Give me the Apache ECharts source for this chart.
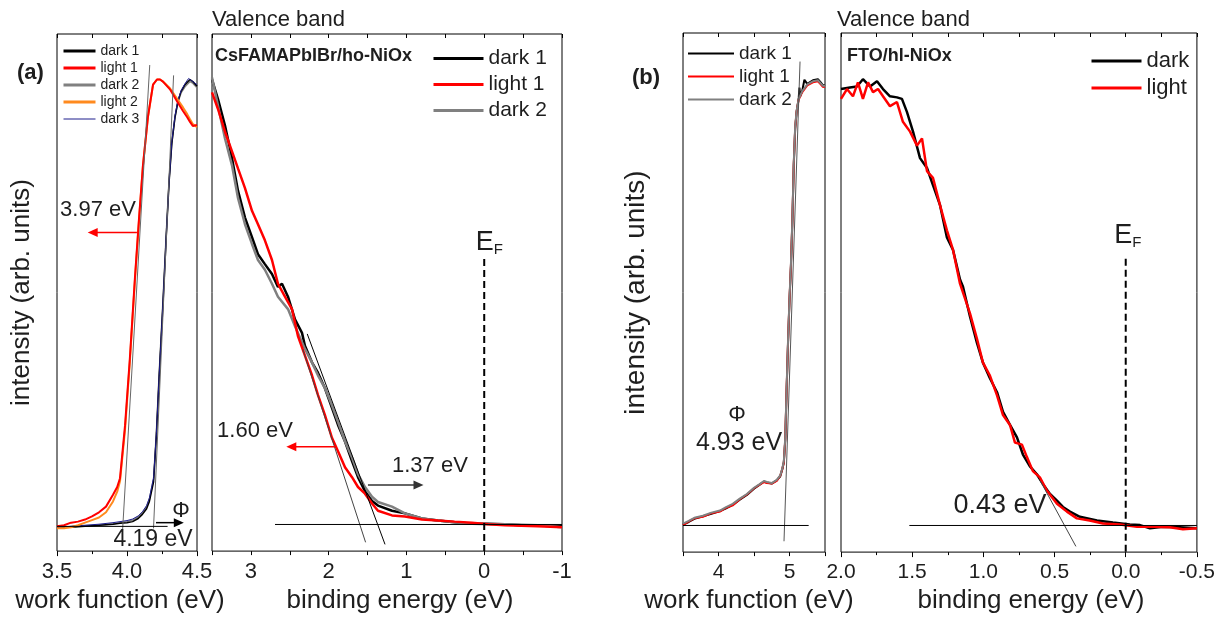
<!DOCTYPE html>
<html>
<head>
<meta charset="utf-8">
<title>Work function and valence band spectra</title>
<script src="https://cdn.jsdelivr.net/npm/echarts@6.0.0/dist/echarts.min.js"></script>
<style>
  html, body { margin: 0; padding: 0; background: #fff; }
  #chart { width: 1218px; height: 619px; }
</style>
</head>
<body>
<div id="chart"></div>
<script>
// ---------- (a) CsFAMAPbIBr/ho-NiOx : secondary electron cutoff ----------
const wfA_dark1 = [[3.50,4.6],[3.60,4.6],[3.70,4.8],[3.80,5.0],[3.90,5.2],[3.95,5.4],[4.00,5.5],[4.04,5.7],[4.08,6.3],[4.11,7.1],[4.14,8.2],[4.16,9.6],[4.19,13.4],[4.21,22.4],[4.23,33.8],[4.257,47.8],[4.28,60.6],[4.30,71.1],[4.32,78.8],[4.343,83.9],[4.364,87.0],[4.386,88.9],[4.414,90.2],[4.45,91.2],[4.47,90.8],[4.50,89.9]];
const wfA_light1 = [[3.50,4.8],[3.55,5.0],[3.60,5.5],[3.65,5.7],[3.70,6.1],[3.75,6.7],[3.80,7.5],[3.85,8.6],[3.90,10.9],[3.93,12.4],[3.95,14.1],[3.986,24.3],[4.02,37.1],[4.057,53.0],[4.086,64.4],[4.114,74.6],[4.15,84.1],[4.186,90.2],[4.214,91.2],[4.236,91.2],[4.257,90.8],[4.307,89.3],[4.357,87.0],[4.40,85.1],[4.43,83.9],[4.45,83.0],[4.47,82.2],[4.50,82.4]];
const wfA_dark2 = [[3.50,4.4],[3.60,4.7],[3.70,4.9],[3.80,5.0],[3.90,5.3],[3.95,5.5],[4.00,5.7],[4.04,6.0],[4.08,6.6],[4.11,7.4],[4.14,8.6],[4.16,10.0],[4.19,14.0],[4.21,23.0],[4.23,34.5],[4.257,48.5],[4.28,61.2],[4.30,71.5],[4.32,79.0],[4.343,84.0],[4.364,86.8],[4.386,88.6],[4.414,89.8],[4.45,90.8],[4.47,90.5],[4.50,89.6]];
const wfA_light2 = [[3.50,4.4],[3.55,4.4],[3.60,4.6],[3.65,5.0],[3.70,5.5],[3.75,6.0],[3.80,6.5],[3.85,7.5],[3.90,9.6],[3.93,11.5],[3.95,13.5],[3.986,23.5],[4.02,36.5],[4.057,52.5],[4.086,64.0],[4.114,74.5],[4.15,84.0],[4.186,90.2],[4.214,91.2],[4.236,91.2],[4.257,90.8],[4.307,89.5],[4.357,87.5],[4.40,85.8],[4.43,84.5],[4.45,83.5],[4.47,82.6],[4.50,82.0]];
const wfA_dark3 = [[3.50,4.5],[3.60,4.8],[3.70,5.0],[3.80,5.2],[3.90,5.5],[3.95,5.7],[4.00,5.9],[4.04,6.2],[4.08,6.8],[4.11,7.6],[4.14,8.8],[4.16,10.3],[4.19,14.2],[4.21,22.8],[4.23,34.0],[4.257,48.0],[4.28,60.8],[4.30,71.2],[4.32,79.2],[4.343,84.2],[4.364,87.2],[4.386,89.0],[4.414,90.4],[4.44,91.4],[4.46,91.0],[4.48,90.6],[4.50,90.2]];

// ---------- (a) valence band ----------
const vbA_dark1 = [[3.500,91.2],[3.423,87.4],[3.333,82.3],[3.243,76.0],[3.166,69.7],[3.076,64.5],[2.986,60.7],[2.909,57.4],[2.820,55.5],[2.729,53.6],[2.652,51.1],[2.600,51.7],[2.523,49.2],[2.433,44.8],[2.343,42.2],[2.305,39.7],[2.215,36.5],[2.138,34.5],[2.048,31.5],[1.958,27.7],[1.880,24.4],[1.790,21.2],[1.700,17.4],[1.623,14.3],[1.533,11.6],[1.443,9.7],[1.366,8.8],[1.186,7.8],[1.019,7.3],[0.801,6.3],[0.595,5.9],[0.380,5.6],[0.158,5.3],[-0.050,5.3],[-0.266,5.2],[-0.480,5.0],[-0.690,5.0],[-0.850,4.9],[-1.000,4.8]];
const vbA_light1 = [[3.500,88.7],[3.423,85.5],[3.333,81.1],[3.243,77.3],[3.166,74.0],[3.076,70.2],[2.986,65.8],[2.909,63.2],[2.820,60.1],[2.729,56.3],[2.652,51.7],[2.562,49.2],[2.472,46.8],[2.395,41.6],[2.305,37.8],[2.215,34.0],[2.138,30.2],[2.048,26.3],[1.958,21.9],[1.880,19.3],[1.790,16.2],[1.700,14.3],[1.623,12.4],[1.533,11.1],[1.443,9.2],[1.366,7.8],[1.186,6.9],[1.019,6.7],[0.801,6.1],[0.595,5.9],[0.380,5.7],[0.158,5.5],[-0.050,5.2],[-0.266,5.0],[-0.480,4.9],[-0.690,4.8],[-0.850,4.7],[-1.000,4.6]];
const vbA_dark2 = [[3.500,91.6],[3.423,86.1],[3.333,79.8],[3.243,74.6],[3.166,68.3],[3.076,63.2],[2.986,59.4],[2.909,56.3],[2.820,54.4],[2.729,51.7],[2.652,49.2],[2.523,46.8],[2.433,43.5],[2.305,39.1],[2.215,36.5],[2.138,34.0],[2.048,31.5],[1.958,28.2],[1.880,25.0],[1.790,21.2],[1.700,18.1],[1.623,14.9],[1.533,12.4],[1.443,10.5],[1.366,9.5],[1.186,8.6],[1.019,7.3],[0.801,6.3],[0.595,5.9],[0.380,5.6],[0.158,5.3],[-0.050,5.2],[-0.266,5.2],[-0.480,5.1],[-0.690,5.0],[-0.850,4.8],[-1.000,4.6]];

// ---------- (b) FTO/hl-NiOx : secondary electron cutoff ----------
const wfB_dark1 = [[3.50,5.3],[3.58,5.8],[3.66,6.4],[3.78,6.9],[3.90,7.4],[4.02,7.9],[4.10,8.4],[4.20,9.1],[4.30,10.1],[4.40,11.0],[4.50,12.2],[4.58,13.0],[4.64,13.6],[4.68,13.4],[4.75,13.2],[4.82,13.8],[4.87,14.6],[4.90,16.0],[4.92,17.3],[4.94,21.5],[4.96,31.5],[4.98,40.5],[5.00,48.5],[5.02,55.0],[5.04,63.5],[5.06,74.5],[5.08,81.5],[5.10,84.8],[5.13,87.5],[5.14,89.5],[5.15,87.8],[5.18,88.9],[5.21,91.0],[5.25,90.2],[5.33,90.9],[5.40,91.1],[5.44,90.5],[5.47,89.9],[5.50,90.0]];
const wfB_light1 = [[3.50,5.2],[3.58,5.9],[3.66,6.5],[3.78,6.8],[3.90,7.5],[4.02,7.8],[4.10,8.5],[4.20,9.0],[4.30,10.2],[4.40,11.1],[4.50,12.3],[4.58,13.0],[4.64,13.5],[4.68,13.3],[4.75,13.2],[4.82,13.7],[4.87,14.7],[4.90,16.1],[4.92,17.2],[4.94,21.8],[4.96,31.8],[4.98,40.8],[5.00,48.8],[5.02,55.2],[5.04,63.8],[5.06,74.8],[5.08,81.8],[5.10,84.9],[5.13,87.2],[5.18,88.6],[5.25,89.9],[5.33,90.5],[5.40,90.7],[5.44,90.1],[5.47,89.6],[5.50,89.7]];
const wfB_dark2 = [[3.50,5.5],[3.58,6.0],[3.66,6.6],[3.78,7.0],[3.90,7.6],[4.02,8.0],[4.10,8.6],[4.20,9.3],[4.30,10.3],[4.40,11.2],[4.50,12.4],[4.58,13.1],[4.64,13.7],[4.68,13.5],[4.75,13.3],[4.82,13.9],[4.87,14.8],[4.90,16.2],[4.92,17.5],[4.94,22.0],[4.96,32.0],[4.98,41.0],[5.00,49.0],[5.02,55.5],[5.04,64.0],[5.06,75.0],[5.08,82.0],[5.10,85.0],[5.13,87.3],[5.18,88.8],[5.25,90.1],[5.33,90.7],[5.40,90.9],[5.44,90.3],[5.47,89.8],[5.50,89.9]];

// ---------- (b) valence band ----------
const vbB_dark = [[2.000,89.2],[1.937,89.5],[1.888,89.7],[1.846,91.1],[1.796,89.7],[1.747,90.7],[1.705,89.2],[1.656,87.8],[1.607,87.6],[1.572,87.3],[1.537,84.8],[1.494,81.0],[1.445,75.9],[1.396,74.0],[1.354,70.7],[1.305,66.9],[1.256,60.6],[1.213,58.2],[1.164,52.5],[1.143,51.1],[1.094,45.4],[1.045,40.3],[1.003,36.5],[0.954,33.5],[0.904,30.8],[0.862,27.0],[0.813,24.5],[0.764,22.1],[0.722,18.8],[0.673,16.5],[0.624,15.0],[0.581,13.1],[0.532,11.2],[0.483,9.9],[0.441,8.7],[0.392,7.8],[0.322,6.8],[0.202,6.1],[0.090,5.7],[-0.029,5.3],[-0.100,5.2],[-0.170,4.6],[-0.261,4.9],[-0.381,4.8],[-0.500,4.6]];
const vbB_light = [[2.000,87.3],[1.958,89.2],[1.916,87.8],[1.881,90.5],[1.846,87.3],[1.810,90.5],[1.775,88.6],[1.740,89.2],[1.705,87.8],[1.656,85.9],[1.607,86.7],[1.565,82.9],[1.515,81.0],[1.466,78.3],[1.431,79.7],[1.396,73.4],[1.354,72.1],[1.305,66.9],[1.256,62.0],[1.213,58.2],[1.164,51.7],[1.094,46.0],[1.045,41.1],[1.003,36.5],[0.954,34.0],[0.904,30.2],[0.862,26.4],[0.813,24.5],[0.778,21.1],[0.729,20.7],[0.694,18.3],[0.652,15.6],[0.603,14.4],[0.553,11.8],[0.483,9.3],[0.413,7.8],[0.343,6.5],[0.254,6.1],[0.160,5.5],[0.041,5.3],[-0.079,4.9],[-0.191,4.9],[-0.310,4.8],[-0.402,4.4],[-0.500,4.6]];

// ---------- onsets read from the tangent construction (eV) ----------
const cutoffA = [3.97, 4.19];   // light, dark
const edgeA = [1.60, 1.37];     // light, dark
const cutoffB = [4.93];
const edgeB = [0.43];

const FONT = "'Liberation Sans', Arial, Helvetica, sans-serif";
const INK = '#1e1e1e';

const oneDecimal = v => v.toFixed(1);
const wholeOnly = v => Math.abs(v - Math.round(v)) < 1e-6 ? String(Math.round(v)) : '';

const grids = [
  { left: 57,  top: 34, width: 140, height: 523 },
  { left: 212, top: 34, width: 350, height: 524 },
  { left: 683, top: 33, width: 142, height: 526 },
  { left: 841, top: 33, width: 356, height: 526 }
].map(g => Object.assign({ show: true, borderColor: '#000', borderWidth: 1, backgroundColor: 'transparent', containLabel: false }, g));

function bottomAxis(i, o) {
  return {
    type: 'value', gridIndex: i, position: 'bottom',
    min: o.min, max: o.max, interval: o.interval, inverse: !!o.inverse,
    axisLine: { show: false, onZero: false },
    axisTick: { show: true, inside: false, length: o.tickLen || 5, lineStyle: { color: '#000', width: 1 } },
    minorTick: o.minor ? { show: true, splitNumber: o.minor, length: 3, lineStyle: { color: '#000', width: 1 } } : { show: false },
    splitLine: { show: false }, minorSplitLine: { show: false },
    axisLabel: { show: true, margin: 10, fontSize: o.fs, fontFamily: FONT, color: INK, formatter: o.fmt },
    name: o.name, nameLocation: 'middle', nameGap: o.nameGap,
    nameTextStyle: { fontSize: o.nfs, fontFamily: FONT, color: INK, padding: o.namePad }
  };
}
function topAxis(i, o) {
  return {
    type: 'value', gridIndex: i, position: 'top',
    min: o.min, max: o.max, interval: o.interval, inverse: !!o.inverse,
    axisLine: { show: false, onZero: false },
    axisTick: { show: true, inside: true, length: 4, lineStyle: { color: '#000', width: 1 } },
    axisLabel: { show: false }, splitLine: { show: false }
  };
}
function sideAxis(i, name, fs, gap) {
  return {
    type: 'value', gridIndex: i, min: 0, max: 100,
    axisLine: { show: false, onZero: false }, axisTick: { show: false },
    axisLabel: { show: false }, splitLine: { show: false },
    name: name || '', nameLocation: 'middle', nameRotate: 90, nameGap: gap || 0,
    nameTextStyle: { fontSize: fs || 12, fontFamily: FONT, color: INK }
  };
}

const xAxis = [
  bottomAxis(0, { min: 3.5, max: 4.5, interval: 0.5, minor: 2, fs: 22, fmt: oneDecimal,
                  name: 'work function (eV)', nameGap: 30, nfs: 26, namePad: [0, 14, 0, 0] }),
  bottomAxis(1, { min: -1, max: 3.5, interval: 0.5, inverse: true, fs: 22, fmt: wholeOnly, tickLen: 4,
                  name: 'binding energy (eV)', nameGap: 30, nfs: 26, namePad: [0, 0, 0, 26] }),
  bottomAxis(2, { min: 3.5, max: 5.5, interval: 0.5, fs: 21, fmt: wholeOnly, tickLen: 4,
                  name: 'work function (eV)', nameGap: 30, nfs: 26, namePad: [0, 10, 0, 0] }),
  bottomAxis(3, { min: -0.5, max: 2.0, interval: 0.5, inverse: true, minor: 2, fs: 21, fmt: oneDecimal,
                  name: 'binding energy (eV)', nameGap: 30, nfs: 26, namePad: [0, 0, 0, 24] }),
  topAxis(0, { min: 3.5, max: 4.5, interval: 0.25 }),
  topAxis(1, { min: -1, max: 3.5, interval: 0.5, inverse: true }),
  topAxis(2, { min: 3.5, max: 5.5, interval: 0.5 }),
  topAxis(3, { min: -0.5, max: 2.0, interval: 0.25, inverse: true })
];
const yAxis = [
  sideAxis(0, 'intensity (arb. units)', 26, 22),
  sideAxis(1),
  sideAxis(2, 'intensity (arb. units)', 28, 33),
  sideAxis(3)
];

function trace(axis, name, data, color, width, z) {
  return {
    type: 'line', name: name, xAxisIndex: axis, yAxisIndex: axis, data: data,
    symbol: 'none', showSymbol: false, silent: true, clip: true, z: z || 2,
    lineStyle: { color: color, width: width }, itemStyle: { color: color }
  };
}
function guide(axis, data, color, width, dash) {
  return {
    type: 'line', xAxisIndex: axis, yAxisIndex: axis, data: data,
    symbol: 'none', showSymbol: false, silent: true, clip: true, z: 3,
    lineStyle: { color: color, width: width, type: dash || 'solid' }
  };
}
// straight tangent through (onset, base) with the given slope, between two intensities
function tangent(axis, onset, base, slope, yLow, yHigh, color) {
  return guide(axis, [[onset + (yLow - base) / slope, yLow], [onset + (yHigh - base) / slope, yHigh]], color, 1);
}
function note(axis, x, y, text, size, extra) {
  return {
    type: 'scatter', xAxisIndex: axis, yAxisIndex: axis, silent: true, z: 6,
    symbol: 'circle', symbolSize: 1, itemStyle: { color: 'rgba(0,0,0,0)', opacity: 1 }, data: [[x, y]],
    label: Object.assign({ show: true, position: 'inside', formatter: text, fontSize: size, fontFamily: FONT, color: INK, opacity: 1 }, extra || {})
  };
}
// horizontal arrow: shaft plus a triangular head at the far end
function arrow(axis, from, to, color) {
  const pointsRight = to[0] > from[0];
  const inverted = axis === 1 || axis === 3;
  const rightOnScreen = inverted ? !pointsRight : pointsRight;
  return {
    type: 'line', xAxisIndex: axis, yAxisIndex: axis, silent: true, z: 6, clip: false,
    showSymbol: true, symbol: 'none',
    lineStyle: { color: color, width: 1.5 }, itemStyle: { color: color, opacity: 1 },
    data: [
      { value: from, symbol: 'none' },
      { value: to, symbol: 'triangle', symbolSize: [9, 10], symbolRotate: rightOnScreen ? -90 : 90 }
    ]
  };
}
function fermi(axis, y, dx) {
  return note(axis, 0, y, '{e|E}{f|F}', 27, {
    offset: [dx, 0],
    rich: {
      e: { fontSize: 27, lineHeight: 27, verticalAlign: 'top', fontFamily: FONT, color: INK },
      f: { fontSize: 15, lineHeight: 14, verticalAlign: 'top', padding: [13, 0, 0, 0], fontFamily: FONT, color: INK }
    }
  });
}
const eV = v => v.toFixed(2) + ' eV';

const series = [
  // (a) cutoff
  trace(0, 'cut-a|dark 2', wfA_dark2, '#808080', 1.5),
  trace(0, 'cut-a|dark 1', wfA_dark1, '#000000', 1.5),
  trace(0, 'cut-a|dark 3', wfA_dark3, '#1c1c8c', 1),
  trace(0, 'cut-a|light 2', wfA_light2, '#ff8a1e', 2),
  trace(0, 'cut-a|light 1', wfA_light1, '#ff0000', 2),
  tangent(0, cutoffA[0], 4.78, 463.7, 4.0, 94.0, '#666'),
  tangent(0, cutoffA[1], 4.78, 611, 4.4, 92.0, '#666'),
  guide(0, [[3.5, 4.78], [4.29, 4.78]], '#000', 1),
  arrow(0, [4.071, 61.6], [3.755, 61.6], '#ff0000'),
  note(0, 3.793, 66.0, eV(cutoffA[0]), 22),
  arrow(0, [4.207, 5.5], [4.37, 5.5], '#000000'),
  note(0, 4.386, 7.8, 'Φ', 22),
  note(0, 4.186, 2.3, eV(cutoffA[1]), 23),

  // (a) valence band
  trace(1, 'vb-a|dark 1', vbA_dark1, '#000000', 2.5),
  trace(1, 'vb-a|dark 2', vbA_dark2, '#808080', 2.5),
  trace(1, 'vb-a|light 1', vbA_light1, '#ff0000', 2.5),
  tangent(1, edgeA[0], 5.15, 46.2, 1.7, 39.0, '#444'),
  tangent(1, edgeA[1], 5.15, 40.7, 1.3, 42.0, '#000'),
  guide(1, [[2.69, 5.15], [-1.0, 5.15]], '#000', 1),
  guide(1, [[0, 56.5], [0, 0]], '#000', 2, [7, 4]),
  arrow(1, [1.92, 20.2], [2.48, 20.2], '#ff0000'),
  note(1, 2.947, 23.3, eV(edgeA[0]), 22),
  arrow(1, [1.495, 12.8], [0.845, 12.8], '#333333'),
  note(1, 0.698, 16.4, eV(edgeA[1]), 22),
  fermi(1, 59.7, 5),

  // (b) cutoff
  trace(2, 'cut-b|dark 1', wfB_dark1, '#000000', 2),
  trace(2, 'cut-b|light 1', wfB_light1, '#ff0000', 2),
  trace(2, 'cut-b|dark 2', wfB_dark2, '#808080', 2),
  tangent(2, cutoffB[0], 5.13, 409, 2.09, 94.5, '#555'),
  guide(2, [[3.5, 5.13], [5.27, 5.13]], '#000', 1),
  note(2, 4.26, 26.4, 'Φ', 22),
  note(2, 4.29, 20.9, eV(cutoffB[0]), 25),

  // (b) valence band
  trace(3, 'vb-b|dark', vbB_dark, '#000000', 2.5),
  trace(3, 'vb-b|light', vbB_light, '#ff0000', 2.5),
  tangent(3, edgeB[0], 5.13, 50.4, 1.1, 13.7, '#444'),
  guide(3, [[1.52, 5.13], [-0.5, 5.13]], '#000', 1),
  guide(3, [[0, 56.5], [0, 0]], '#000', 2, [7, 4]),
  note(3, 0.883, 8.9, eV(edgeB[0]), 27),
  fermi(3, 61.0, 2)
];

const shownName = n => n.split('|')[1];
function legendBlock(left, top, iconW, fs, gap, names, widths) {
  return {
    orient: 'vertical', left: left, top: top, padding: 0,
    itemWidth: iconW, itemHeight: 10, itemGap: gap, selectedMode: false,
    formatter: shownName,
    itemStyle: { opacity: 0, borderWidth: 0 },
    textStyle: { fontSize: fs, fontFamily: FONT, color: INK },
    data: names.map((n, k) => ({ name: n, lineStyle: { width: widths[k] } }))
  };
}

const legend = [
  legendBlock(62, 44, 32, 14, 3,
    ['cut-a|dark 1', 'cut-a|light 1', 'cut-a|dark 2', 'cut-a|light 2', 'cut-a|dark 3'], [3, 3, 3, 3, 1]),
  legendBlock(432, 48, 50, 21, 5, ['vb-a|dark 1', 'vb-a|light 1', 'vb-a|dark 2'], [3, 3, 3]),
  legendBlock(687, 44, 46, 19, 4, ['cut-b|dark 1', 'cut-b|light 1', 'cut-b|dark 2'], [2, 2, 2]),
  legendBlock(1090, 50, 50, 22, 5, ['vb-b|dark', 'vb-b|light'], [3, 3])
];

const plain = (text, left, top, size, weight) => ({
  text: text, left: left, top: top, padding: 0,
  textStyle: { fontSize: size, fontWeight: weight || 'normal', fontFamily: FONT, color: INK }
});
const title = [
  plain('Valence band', 212, 9, 22),
  plain('Valence band', 837, 9, 22),
  plain('(a)', 17, 62, 22, 'bold'),
  plain('(b)', 632, 67, 22, 'bold'),
  plain('CsFAMAPbIBr/ho-NiOx', 215, 47, 18, 'bold'),
  plain('FTO/hl-NiOx', 847, 47, 18, 'bold')
];

const chart = echarts.init(document.getElementById('chart'), null, { renderer: 'canvas' });
chart.setOption({
  animation: false,
  backgroundColor: '#fff',
  title: title,
  legend: legend,
  grid: grids,
  xAxis: xAxis,
  yAxis: yAxis,
  series: series
});
</script>
</body>
</html>
